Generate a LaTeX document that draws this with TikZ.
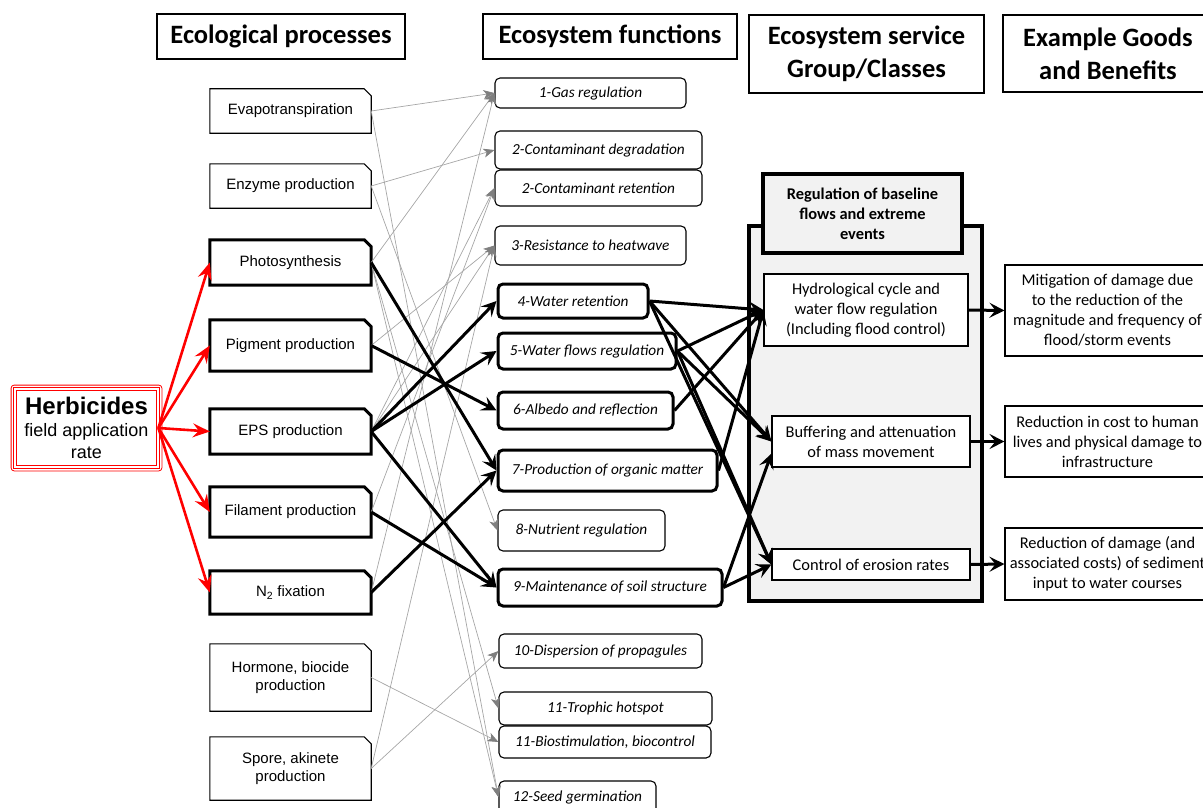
\documentclass[tikz,border=0pt]{standalone}
\usepackage{fontspec}
\setmainfont{Carlito}
\newfontfamily\arialfont{Liberation Sans}
\usetikzlibrary{arrows.meta}

\definecolor{herbRed}{HTML}{FF0000}
\definecolor{lnGray}{HTML}{A6A6A6}
\definecolor{tipGray}{HTML}{7F7F7F}
\definecolor{boxGray}{HTML}{F2F2F2}

% process box with the top right corner snipped off
\newcommand{\procbox}[5]{%
  \node[proc, minimum height=#3] (#1) at (#2) {#5};
  \draw[#4] (#1.south west) -- (#1.north west) -- ([xshift=-7pt]#1.north east)
    -- ([yshift=-7pt]#1.north east) -- (#1.south east) -- cycle;}

\begin{document}
\begin{tikzpicture}[x=1pt, y=-1pt,
  hdr/.style={draw, line width=1.3pt, align=center, inner sep=0pt,
    font=\fontsize{26.5}{33}\selectfont\bfseries},
  proc/.style={minimum width=161pt, inner sep=0pt, align=center,
    font=\arialfont\fontsize{15}{17.5}\selectfont},
  procthin/.style={line width=1.1pt},
  procthick/.style={line width=3pt},
  func/.style={draw, rounded corners=5pt, fill=white, inner sep=0pt,
    font=\fontsize{15.3}{18}\selectfont\itshape},
  functhin/.style={func, line width=1.1pt},
  functhick/.style={func, line width=3pt},
  svc/.style={draw, line width=1.1pt, fill=white, align=center, inner sep=0pt,
    font=\fontsize{16.4}{20}\selectfont},
  grayarr/.style={draw=lnGray, line width=0.7pt,
    -{Stealth[length=11pt, width=9pt, inset=3pt, color=tipGray]}},
  blackarr/.style={line width=3pt, -{Stealth[length=15pt, width=15pt, inset=6pt]}},
  redarr/.style={draw=herbRed, line width=2.6pt,
    -{Stealth[length=17pt, width=14pt, inset=6pt]}}]
\useasboundingbox (0,0) rectangle (1203,808);

% column headers
\node[hdr, minimum width=248pt, minimum height=45pt] (hEco) at (281,36.5) {Ecological processes};
\node[hdr, minimum width=254pt, minimum height=45pt] (hFun) at (610,36.5) {Ecosystem functions};
\node[hdr, minimum width=235pt, minimum height=78pt] (hSer) at (866.5,54) {Ecosystem service\\Group/Classes};
\node[hdr, minimum width=210pt, minimum height=77pt] (hBen) at (1108,53.5) {Example Goods\\and Benefits};

% service group
\node[draw, line width=4pt, fill=boxGray, minimum width=233pt, minimum height=375pt] (svcGroup) at (865.5,413.5) {};
\node[draw, line width=4pt, fill=boxGray, minimum width=199pt, minimum height=79pt, align=center,
  font=\fontsize{16.4}{20}\selectfont\bfseries] (svcHead) at (862.5,213.5)
  {Regulation of baseline\\flows and extreme\\events};

% herbicides
\node[draw=herbRed, double, double distance=1.6pt, line width=0.8pt, minimum width=143pt, minimum height=78pt,
  align=center, inner sep=0pt, font=\arialfont\fontsize{18}{22}\selectfont] (herb) at (86.5,428)
  {{\fontsize{24}{26}\selectfont\bfseries Herbicides}\\field application\\rate};
\draw[herbRed, line width=0.8pt, rounded corners=3pt] ([shift={(-3.5pt,3.5pt)}]herb.north west)
  rectangle ([shift={(3.5pt,-3.5pt)}]herb.south east);

% ecological processes
\procbox{evap}{290.5,111}{44pt}{procthin}{Evapotranspiration}
\procbox{enz}{290.5,186}{44pt}{procthin}{Enzyme production}
\procbox{photo}{290.5,262.5}{45pt}{procthick}{Photosynthesis}
\procbox{pigm}{290.5,345.5}{51pt}{procthick}{Pigment production}
\procbox{eps}{290.5,431.5}{45pt}{procthick}{EPS production}
\procbox{fil}{290.5,512}{50pt}{procthick}{Filament production}
\procbox{ntwo}{290.5,592.5}{43pt}{procthick}{N\textsubscript{2} fixation}
\procbox{horm}{290.5,677.5}{67pt}{procthin}{Hormone, biocide\\production}
\procbox{spore}{290.5,768.5}{63pt}{procthin}{Spore, akinete\\production}

% ecosystem functions
\node[functhin, minimum width=191pt, minimum height=30pt] (fGas) at (590.5,93) {1-Gas regulation};
\node[functhin, minimum width=207pt, minimum height=38pt] (fDeg) at (598.5,150) {2-Contaminant degradation};
\node[functhin, minimum width=207pt, minimum height=36pt] (fRet) at (598.5,188) {2-Contaminant retention};
\node[functhin, minimum width=191pt, minimum height=39pt] (fHeat) at (590.5,245.5) {3-Resistance to heatwave};
\node[functhick, minimum width=150pt, minimum height=34pt] (fWret) at (573,301) {4-Water retention};
\node[functhick, minimum width=178pt, minimum height=36pt] (fWflow) at (587,351) {5-Water flows regulation};
\node[functhick, minimum width=175pt, minimum height=37pt] (fAlb) at (585.5,410.5) {6-Albedo and reflection};
\node[functhick, minimum width=219pt, minimum height=41pt] (fOrg) at (607.5,470.5) {7-Production of organic matter};
\node[functhin, minimum width=167pt, minimum height=41pt] (fNut) at (581.5,530.5) {8-Nutrient regulation};
\node[functhick, minimum width=224pt, minimum height=37pt] (fSoil) at (610,587.5) {9-Maintenance of soil structure};
\node[functhin, minimum width=203pt, minimum height=34pt] (fDisp) at (600.5,651) {10-Dispersion of propagules};
\node[functhin, minimum width=213pt, minimum height=33pt] (fTroph) at (605.5,708.5) {11-Trophic hotspot};
\node[functhin, minimum width=212pt, minimum height=32pt] (fBio) at (605,742) {11-Biostimulation, biocontrol};
\node[functhin, minimum width=157pt, minimum height=32pt] (fSeed) at (577.5,797) {12-Seed germination};

% service classes
\node[svc, minimum width=204pt, minimum height=72pt] (sHyd) at (866,310)
  {Hydrological cycle and\\water flow regulation\\(Including flood control)};
\node[svc, minimum width=198pt, minimum height=51pt] (sBuf) at (871,441.5)
  {Buffering and attenuation\\of mass movement};
\node[svc, minimum width=198pt, minimum height=31pt] (sEro) at (871,564.5) {Control of erosion rates};

% goods and benefits
\node[svc, minimum width=205pt, minimum height=91pt] (bFlood) at (1107.5,310.5)
  {Mitigation of damage due\\to the reduction of the\\magnitude and frequency of\\flood/storm events};
\node[svc, minimum width=205pt, minimum height=71pt] (bLives) at (1107.5,441.5)
  {Reduction in cost to human\\lives and physical damage to\\infrastructure};
\node[svc, minimum width=205pt, minimum height=72pt] (bSed) at (1107.5,564)
  {Reduction of damage (and\\associated costs) of sediment\\input to water courses};

% weak links
\draw[grayarr] (evap.east) -- (fGas.west);
\draw[grayarr] (evap.east) -- (fSeed.west);
\draw[grayarr] (enz.east) -- (fDeg.west);
\draw[grayarr] (enz.east) -- (fNut.west);
\draw[grayarr] (photo.east) -- (fGas.west);
\draw[grayarr] (photo.east) -- (fTroph.west);
\draw[grayarr] (photo.east) -- (fSeed.west);
\draw[grayarr] (pigm.east) -- (fHeat.west);
\draw[grayarr] (eps.east) -- (fHeat.west);
\draw[grayarr] (eps.east) -- (fRet.west);
\draw[grayarr] (fil.east) -- (fRet.west);
\draw[grayarr] (ntwo.east) -- (fGas.west);
\draw[grayarr] (horm.east) -- (fBio.west);
\draw[grayarr] (spore.east) -- (fDisp.west);
\draw[grayarr] (spore.east) -- (fHeat.west);

% herbicide effects
\draw[redarr] (herb.east) -- (photo.west);
\draw[redarr] (herb.east) -- (pigm.west);
\draw[redarr] (herb.east) -- (eps.west);
\draw[redarr] (herb.east) -- (fil.west);
\draw[redarr] (herb.east) -- (ntwo.west);

% strong links
\draw[blackarr] (photo.east) -- (fOrg.west);
\draw[blackarr] (pigm.east) -- (fAlb.west);
\draw[blackarr] (eps.east) -- (fWret.west);
\draw[blackarr] (eps.east) -- (fWflow.west);
\draw[blackarr] (eps.east) -- (fSoil.west);
\draw[blackarr] (fil.east) -- (fSoil.west);
\draw[blackarr] (ntwo.east) -- (fOrg.west);

\draw[blackarr] (fWret.east) -- (sHyd.west);
\draw[blackarr] (fWret.east) -- (sBuf.west);
\draw[blackarr] (fWret.east) -- (sEro.west);
\draw[blackarr] (fWflow.east) -- (sHyd.west);
\draw[blackarr] (fWflow.east) -- (sBuf.west);
\draw[blackarr] (fWflow.east) -- (sEro.west);
\draw[blackarr] (fAlb.east) -- (sHyd.west);
\draw[blackarr] (fOrg.east) -- (sHyd.west);
\draw[blackarr] (fSoil.east) -- ([yshift=-12pt]sBuf.west);
\draw[blackarr] (fSoil.east) -- (sEro.west);

\draw[blackarr] (sHyd.east) -- (bFlood.west);
\draw[blackarr] (sBuf.east) -- (bLives.west);
\draw[blackarr] (sEro.east) -- (bSed.west);
\end{tikzpicture}
\end{document}
